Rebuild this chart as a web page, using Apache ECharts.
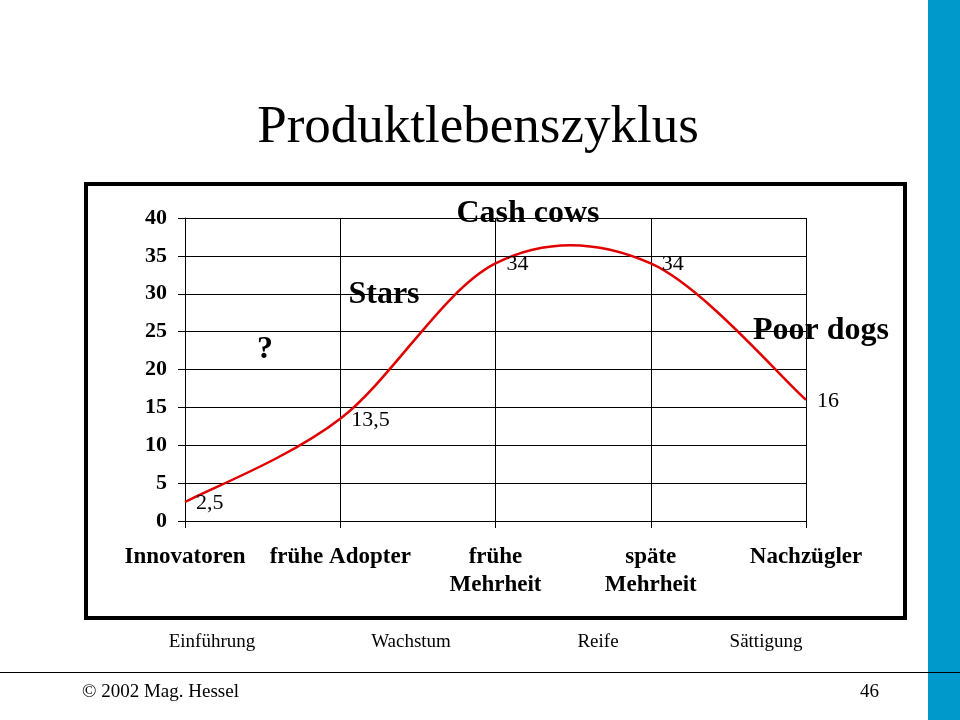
<!DOCTYPE html>
<html>
<head>
<meta charset="utf-8">
<script src="https://cdn.jsdelivr.net/npm/echarts@6/dist/echarts.min.js"></script>
<style>html,body{margin:0;padding:0;background:#fff}#c{width:960px;height:720px}</style>
</head>
<body>
<div id="c"></div>
<script>
var categories = ['Innovatoren', 'frühe Adopter', 'frühe\nMehrheit', 'späte\nMehrheit', 'Nachzügler'];
var values = [2.5, 13.5, 34, 34, 16];
var yTicks = { min: 0, max: 40, interval: 5 };
var phases = ['Einführung', 'Wachstum', 'Reife', 'Sättigung'];
var quadrantLabels = ['?', 'Stars', 'Cash cows', 'Poor dogs'];

var F = '"Liberation Serif", "Times New Roman", serif';
var chart = echarts.init(document.getElementById('c'));

var phaseX = [212, 411, 598, 766];
var quadPos = [[265, 350], [384, 295], [528, 214], [821, 331]];

var graphics = [
  { type: 'rect', shape: { x: 86, y: 184, width: 819, height: 434 }, style: { fill: 'none', stroke: '#000', lineWidth: 4 }, z: 1 },
  { type: 'rect', shape: { x: 928, y: 0, width: 32, height: 720 }, style: { fill: '#0099cc' }, z: 1 },
  { type: 'line', shape: { x1: 0, y1: 672.5, x2: 960, y2: 672.5 }, style: { stroke: '#000', lineWidth: 1 }, z: 2 },
  { type: 'text', x: 478, y: 102, style: { text: 'Produktlebenszyklus', font: '53px ' + F, fill: '#000', align: 'center', verticalAlign: 'top' } },
  { type: 'text', x: 82, y: 692, style: { text: '© 2002 Mag. Hessel', font: '19px ' + F, fill: '#000', align: 'left', verticalAlign: 'middle' } },
  { type: 'text', x: 879, y: 692, style: { text: '46', font: '19px ' + F, fill: '#000', align: 'right', verticalAlign: 'middle' } }
];
phases.forEach(function (p, i) {
  graphics.push({ type: 'text', x: phaseX[i], y: 642, style: { text: p, font: '19px ' + F, fill: '#000', align: 'center', verticalAlign: 'middle' } });
});
quadrantLabels.forEach(function (q, i) {
  graphics.push({ type: 'text', x: quadPos[i][0], y: quadPos[i][1], z: 10, style: { text: q, font: 'bold 32px ' + F, fill: '#000', align: 'center', verticalAlign: 'middle' } });
});

// Catmull-Rom spline (Excel-style smoothed line) through the data points, in axis coordinates
function renderSpline(params, api) {
  if (params.dataIndex !== 0) return null;
  var pts = values.map(function (v, i) { return api.coord([i, v]); });
  var n = pts.length;
  var d = 'M' + pts[0][0] + ' ' + pts[0][1];
  for (var i = 0; i < n - 1; i++) {
    var p0 = pts[Math.max(i - 1, 0)], p1 = pts[i], p2 = pts[i + 1], p3 = pts[Math.min(i + 2, n - 1)];
    var c1x = p1[0] + (p2[0] - p0[0]) / 6, c1y = p1[1] + (p2[1] - p0[1]) / 6;
    var c2x = p2[0] - (p3[0] - p1[0]) / 6, c2y = p2[1] - (p3[1] - p1[1]) / 6;
    d += ' C' + c1x + ' ' + c1y + ' ' + c2x + ' ' + c2y + ' ' + p2[0] + ' ' + p2[1];
  }
  return { type: 'path', shape: { pathData: d }, style: { stroke: '#e00000', lineWidth: 2.5, fill: null }, z2: 5 };
}

chart.setOption({
  backgroundColor: '#fff',
  animation: false,
  grid: { left: 185, right: 154, top: 218, bottom: 199, containLabel: false },
  xAxis: {
    type: 'category', data: categories, boundaryGap: false,
    axisLine: { lineStyle: { color: '#000', width: 1 } },
    axisTick: { show: true, length: 7, inside: false, lineStyle: { color: '#000' } },
    splitLine: { show: true, lineStyle: { color: '#000', width: 1 } },
    axisLabel: { interval: 0, margin: 22, fontFamily: F, fontSize: 23, fontWeight: 'bold', color: '#000', lineHeight: 28 }
  },
  yAxis: {
    type: 'value', min: yTicks.min, max: yTicks.max, interval: yTicks.interval,
    axisLine: { show: true, lineStyle: { color: '#000', width: 1 } },
    axisTick: { show: true, length: 7, lineStyle: { color: '#000' } },
    splitLine: { show: true, lineStyle: { color: '#000', width: 1 } },
    axisLabel: { margin: 18, fontFamily: F, fontSize: 22, fontWeight: 'bold', color: '#000' }
  },
  series: [{
    type: 'custom', renderItem: renderSpline, z: 5, silent: true,
    data: values.map(function (v, i) { return [i, v]; })
  }, {
    type: 'scatter', data: values, symbol: 'circle', symbolSize: 0, z: 6, silent: true,
    itemStyle: { color: '#e00000', opacity: 1 },
    label: {
      show: true, position: 'right', distance: 11, offset: [0, 1],
      fontFamily: F, fontSize: 22, color: '#000', opacity: 1,
      formatter: function (p) { return String(p.value).replace('.', ','); }
    }
  }],
  graphic: graphics
});
</script>
</body>
</html>
